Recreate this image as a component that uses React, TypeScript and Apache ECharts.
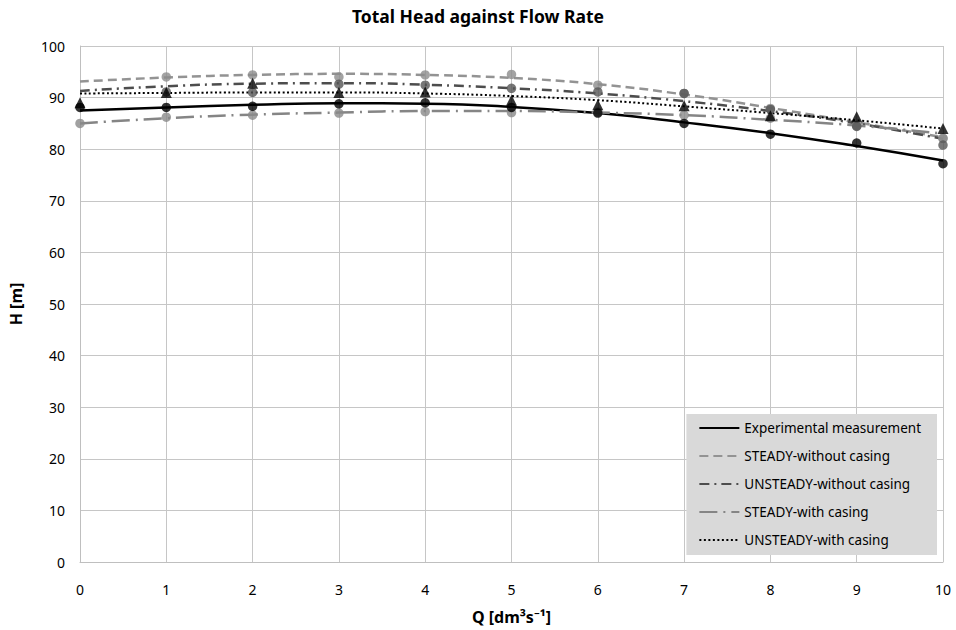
import React, { useEffect, useRef } from "react";
import * as echarts from "echarts";

const flowRates = [0, 1, 2, 3, 4, 5, 6, 7, 8, 9, 10];
const seriesNames = [
  "Experimental measurement",
  "STEADY-without casing",
  "UNSTEADY-without casing",
  "STEADY-with casing",
  "UNSTEADY-with casing",
];

// Trendline values read at each flow rate
const expLine = [87.5, 88.1, 88.6, 88.9, 88.8, 88.2, 87.0, 85.2, 83.1, 80.6, 77.8];
const steadyWithoutLine = [93.1, 93.9, 94.4, 94.6, 94.4, 93.8, 92.6, 90.6, 88.0, 85.2, 82.3];
const unsteadyWithoutLine = [91.3, 92.2, 92.7, 92.8, 92.5, 91.8, 90.8, 89.3, 87.4, 85.0, 82.0];
const steadyWithLine = [85.0, 86.0, 86.7, 87.1, 87.4, 87.4, 87.1, 86.6, 85.7, 84.6, 83.0];
const unsteadyWithLine = [90.8, 90.9, 91.0, 91.0, 90.8, 90.3, 89.5, 88.3, 87.0, 85.6, 84.0];

// Measured / computed points
const expPts = [88.1, 88.1, 88.3, 88.8, 89.0, 88.1, 87.0, 85.0, 82.9, 81.2, 77.2];
const steadyWithoutPts = [null, 94.0, 94.4, 94.0, 94.4, 94.5, 92.4, 90.8, 87.9, 84.5, 82.1];
const unsteadyWithoutPts = [null, 91.1, 91.0, 92.6, 92.4, 91.8, 91.1, 90.8, 87.7, 84.4, 80.8];
const steadyWithPts = [85.0, 86.2, 86.6, 87.0, 87.3, 87.1, 87.2, 86.6, 86.0, 84.6, 82.1];
const unsteadyWithPts = [89.0, 91.0, 92.8, 91.0, 91.1, 89.5, 88.6, 88.4, 86.5, 86.3, 84.0];

const FONT = "Noto Sans";

const pairs = (vals: (number | null)[]) =>
  flowRates
    .map((x, i) => (vals[i] == null ? null : [x, vals[i]]))
    .filter((p) => p !== null);

export default function App() {
  const ref = useRef<HTMLDivElement>(null);

  useEffect(() => {
    if (!ref.current) return;
    const chart = echarts.init(ref.current, undefined, { renderer: "svg" });

    const lineDefs = [
      { name: seriesNames[0], data: expLine, color: "#000000", type: "solid", width: 2.5 },
      { name: seriesNames[1], data: steadyWithoutLine, color: "#939393", type: [9, 5], width: 2.5 },
      { name: seriesNames[2], data: unsteadyWithoutLine, color: "#4d4d4d", type: [10, 5, 2, 5], width: 2.5 },
      { name: seriesNames[3], data: steadyWithLine, color: "#858585", type: [18, 6, 2, 6], width: 2.5 },
      { name: seriesNames[4], data: unsteadyWithLine, color: "#000000", type: [2, 2.5], width: 2 },
    ];

    const ptDefs = [
      { name: "sc-pts", data: steadyWithPts, color: "#8a8a8a", symbol: "circle" },
      { name: "sw-pts", data: steadyWithoutPts, color: "#8c8c8c", symbol: "circle" },
      { name: "uw-pts", data: unsteadyWithoutPts, color: "#555555", symbol: "circle" },
      { name: "e-pts", data: expPts, color: "#000000", symbol: "circle" },
      { name: "uc-pts", data: unsteadyWithPts, color: "#000000", symbol: "triangle" },
    ];

    const series: any[] = [
      ...lineDefs.map((d) => ({
        type: "line",
        name: d.name,
        data: pairs(d.data),
        smooth: true,
        symbol: "none",
        showSymbol: false,
        lineStyle: { color: d.color, type: d.type, width: d.width },
        itemStyle: { color: d.color },
        z: 2,
      })),
      ...ptDefs.map((d) => ({
        type: "scatter",
        name: d.name,
        data: pairs(d.data),
        symbol: d.symbol,
        symbolSize: d.symbol === "triangle" ? 11 : 9.5,
        itemStyle: { color: d.color },
        z: 3,
      })),
    ];

    chart.setOption({
      animation: false,
      backgroundColor: "#ffffff",
      title: {
        text: "Total Head against Flow Rate",
        left: "center",
        top: 2,
        textStyle: { fontFamily: FONT, fontSize: 17.5, fontWeight: "bold", color: "#000" },
      },
      grid: { left: 80, right: 13, top: 46, bottom: 68 },
      legend: {
        data: seriesNames,
        orient: "vertical",
        right: 19,
        bottom: 75,
        backgroundColor: "#d9d9d9",
        padding: [7, 16, 8, 12],
        itemWidth: 40,
        itemHeight: 14,
        itemGap: 14,
        align: "left",
        itemStyle: { opacity: 0 },
        textStyle: { fontFamily: FONT, fontSize: 13.5, color: "#000" },
      },
      xAxis: {
        type: "value",
        min: 0,
        max: 10,
        interval: 1,
        name: "Q [dm³s⁻¹]",
        nameLocation: "middle",
        nameGap: 47,
        nameTextStyle: { fontFamily: FONT, fontSize: 16, fontWeight: "bold", color: "#000" },
        axisLine: { show: true, lineStyle: { color: "#bfbfbf" } },
        axisTick: { show: false },
        axisLabel: { fontFamily: FONT, fontSize: 14, color: "#000", margin: 20 },
        splitLine: { show: true, lineStyle: { color: "#c6c6c6", width: 1 } },
      },
      yAxis: {
        type: "value",
        min: 0,
        max: 100,
        interval: 10,
        name: "H [m]",
        nameLocation: "middle",
        nameGap: 56,
        nameTextStyle: { fontFamily: FONT, fontSize: 16, fontWeight: "bold", color: "#000" },
        axisLine: { show: true, lineStyle: { color: "#bfbfbf" } },
        axisTick: { show: false },
        axisLabel: { fontFamily: FONT, fontSize: 14, color: "#000", margin: 15 },
        splitLine: { show: true, lineStyle: { color: "#c6c6c6", width: 1 } },
      },
      series,
    });

    return () => chart.dispose();
  }, []);

  return (
    <div
      ref={ref}
      style={{ position: "fixed", left: 0, top: 0, width: 956, height: 630 }}
    />
  );
}
